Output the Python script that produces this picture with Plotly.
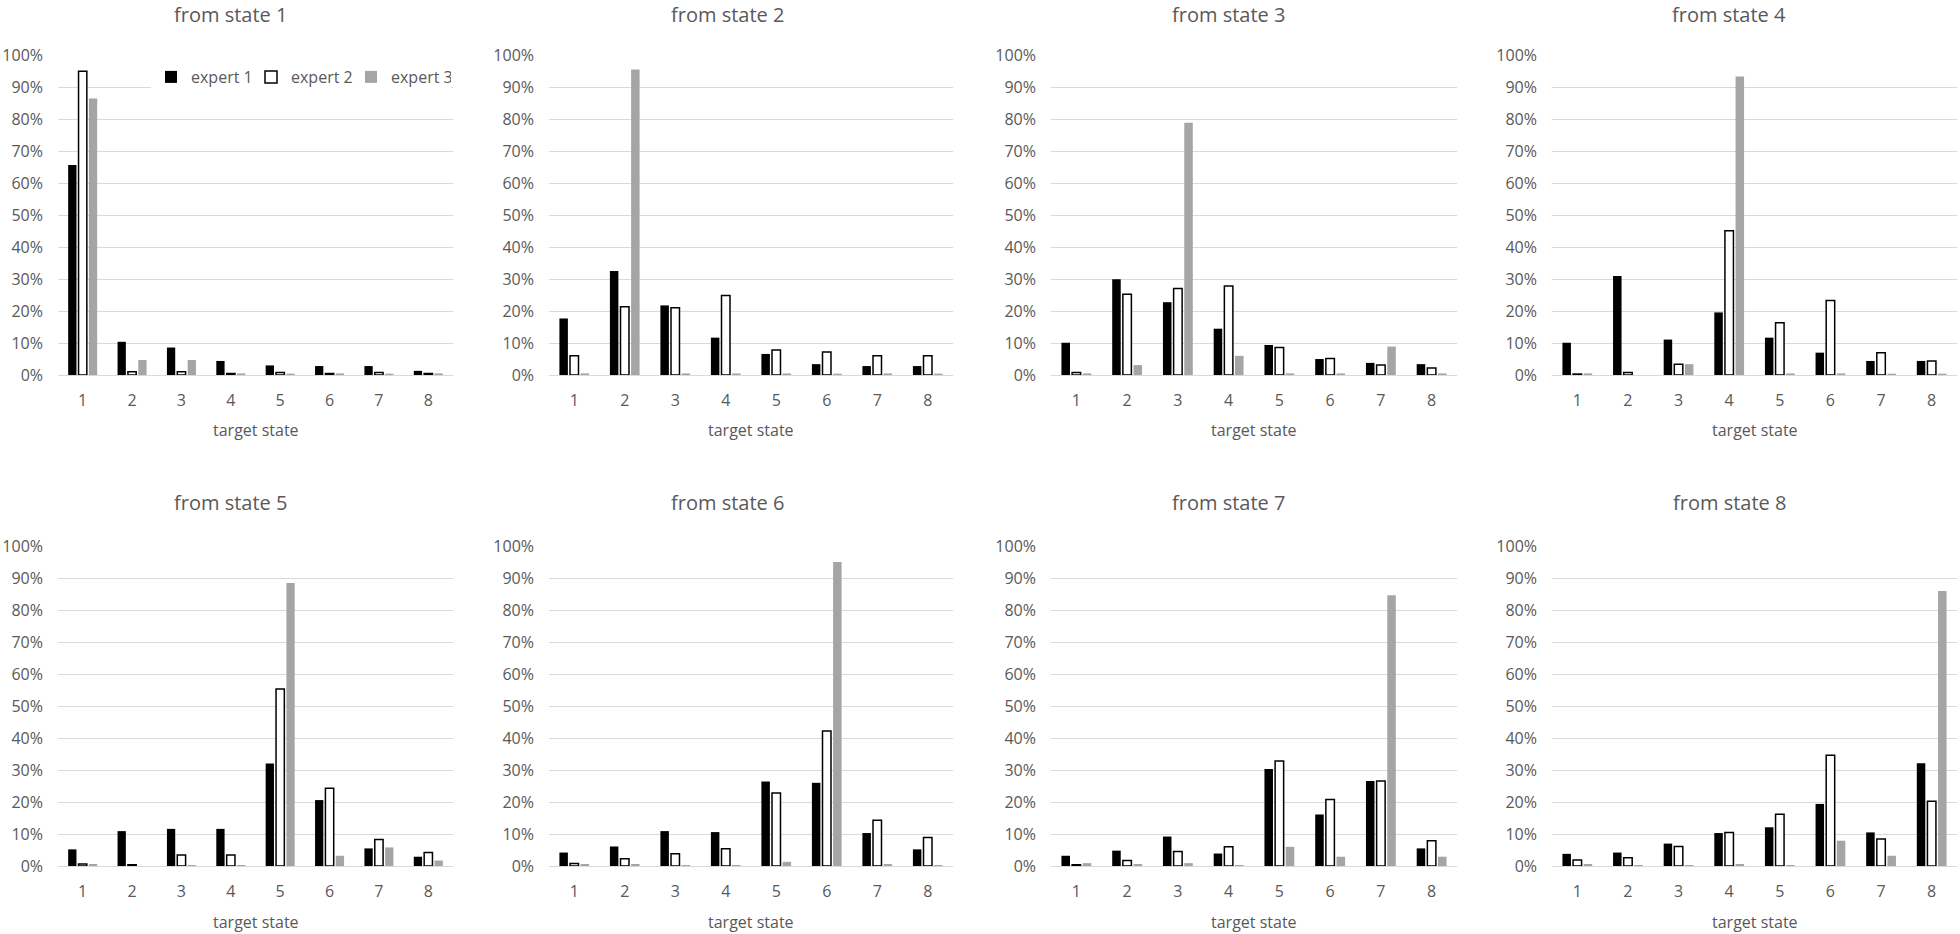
import plotly.graph_objects as go

states = ["1", "2", "3", "4", "5", "6", "7", "8"]
panel_titles = ["from state 1", "from state 2", "from state 3", "from state 4",
                "from state 5", "from state 6", "from state 7", "from state 8"]
series_names = ["expert 1", "expert 2", "expert 3"]

# transition probabilities (%) – rows: from state 1..8, columns: target state 1..8
expert1 = [
    [65.8, 10.4, 8.6, 4.4, 3.0, 2.8, 2.8, 1.3],
    [17.7, 32.6, 21.8, 11.7, 6.6, 3.4, 2.8, 2.8],
    [10.1, 30.0, 22.8, 14.5, 9.4, 5.0, 3.8, 3.4],
    [10.1, 31.0, 11.1, 19.6, 11.7, 7.0, 4.4, 4.4],
    [5.2, 10.9, 11.6, 11.6, 32.0, 20.6, 5.5, 2.9],
    [4.2, 6.1, 10.9, 10.6, 26.4, 26.0, 10.3, 5.2],
    [3.2, 4.8, 9.2, 3.9, 30.3, 16.1, 26.6, 5.5],
    [3.8, 4.2, 7.0, 10.3, 12.1, 19.4, 10.5, 32.1],
]
expert2 = [
    [95.1, 1.0, 1.0, 0.5, 0.8, 0.5, 0.8, 0.5],
    [6.0, 21.4, 21.1, 24.9, 7.8, 7.2, 6.0, 6.0],
    [0.8, 25.3, 27.1, 27.9, 8.6, 5.2, 3.1, 2.2],
    [0.3, 0.8, 3.4, 45.2, 16.4, 23.3, 7.0, 4.4],
    [0.6, 0.4, 3.4, 3.4, 55.3, 24.3, 8.3, 4.2],
    [0.8, 2.3, 3.8, 5.4, 22.8, 42.2, 14.3, 8.9],
    [0.4, 1.7, 4.5, 6.0, 32.8, 20.8, 26.6, 7.9],
    [1.9, 2.6, 6.1, 10.5, 16.2, 34.6, 8.4, 20.2],
]
expert3 = [
    [86.6, 4.7, 4.7, 0.5, 0.3, 0.5, 0.3, 0.5],
    [0.5, 95.7, 0.5, 0.5, 0.5, 0.3, 0.5, 0.3],
    [0.5, 3.1, 79.0, 6.0, 0.5, 0.5, 8.9, 0.5],
    [0.5, 0.0, 3.4, 93.5, 0.5, 0.5, 0.3, 0.3],
    [0.4, 0.0, 0.3, 0.3, 88.4, 3.2, 5.8, 1.7],
    [0.5, 0.5, 0.3, 0.3, 1.3, 95.0, 0.5, 0.3],
    [0.9, 0.6, 0.9, 0.3, 6.0, 2.9, 84.6, 2.9],
    [0.6, 0.3, 0.3, 0.6, 0.3, 7.9, 3.2, 85.9],
]

W, H = 1960, 934
TXT = "#595959"
GRID = "#d9d9d9"
FONT = "Open Sans"

# plot areas in pixels
x_px = [(58, 453), (549, 953), (1051, 1457), (1552, 1957)]
y_px = [(55.7, 375), (546, 866)]
title_cx = [230, 727, 1228, 1729]
title_cy = [14, 503]
xlabel_cy = [430, 922]

fig = go.Figure()
styles = [
    dict(color="#000000", line=dict(color="#000000", width=0)),
    dict(color="#ffffff", line=dict(color="#000000", width=1.5)),
    dict(color="#a5a5a5", line=dict(color="#a5a5a5", width=0)),
]
data = [expert1, expert2, expert3]

layout_axes = {}
annotations = []
for p in range(8):
    r, c = divmod(p, 4)
    ax_id = "" if p == 0 else str(p + 1)
    for s in range(3):
        fig.add_trace(go.Bar(
            x=states, y=data[s][p], name=series_names[s],
            marker=styles[s], showlegend=(p == 0), legendgroup=series_names[s],
            xaxis="x" + ax_id, yaxis="y" + ax_id,
        ))
    x0, x1 = x_px[c]
    y0, y1 = y_px[r]
    layout_axes["xaxis" + ax_id] = dict(
        type="category", categoryorder="array", categoryarray=states,
        domain=[x0 / W, x1 / W], anchor="y" + ax_id,
        showgrid=False, zeroline=False, showline=False,
        ticks="", ticklabelstandoff=14, automargin=False,
        tickfont=dict(size=16, color=TXT, family=FONT),
    )
    layout_axes["yaxis" + ax_id] = dict(
        domain=[1 - y1 / H, 1 - y0 / H], anchor="x" + ax_id,
        range=[0, 100], dtick=10, ticksuffix="%",
        showgrid=True, gridcolor=GRID, gridwidth=1,
        zeroline=True, zerolinecolor=GRID, zerolinewidth=1,
        showline=False, ticks="", ticklabelstandoff=14, automargin=False,
        tickfont=dict(size=16, color=TXT, family=FONT),
    )
    annotations.append(dict(
        text=panel_titles[p], x=title_cx[c] / W, y=1 - title_cy[r] / H,
        xref="paper", yref="paper", xanchor="center", yanchor="middle",
        showarrow=False, font=dict(size=20, color=TXT, family=FONT),
    ))
    annotations.append(dict(
        text="target state", x=((x0 + x1) / 2) / W, y=1 - xlabel_cy[r] / H,
        xref="paper", yref="paper", xanchor="center", yanchor="middle",
        showarrow=False, font=dict(size=16, color=TXT, family=FONT),
    ))

fig.update_layout(
    template="none",
    width=W, height=H,
    margin=dict(l=0, r=0, t=0, b=0, pad=0, autoexpand=False),
    paper_bgcolor="white", plot_bgcolor="white",
    barmode="group", bargap=0.37, bargroupgap=0.2,
    annotations=annotations,
    legend=dict(
        orientation="h", x=151 / W, y=1 - 77 / H, xanchor="left", yanchor="middle",
        bgcolor="white", font=dict(size=16, color=TXT, family=FONT),
        entrywidth=55, itemwidth=30, traceorder="normal",
    ),
    **layout_axes,
)

fig.write_html("out.html", config={"displayModeBar": False},
               post_script="document.body.style.margin='0';")
